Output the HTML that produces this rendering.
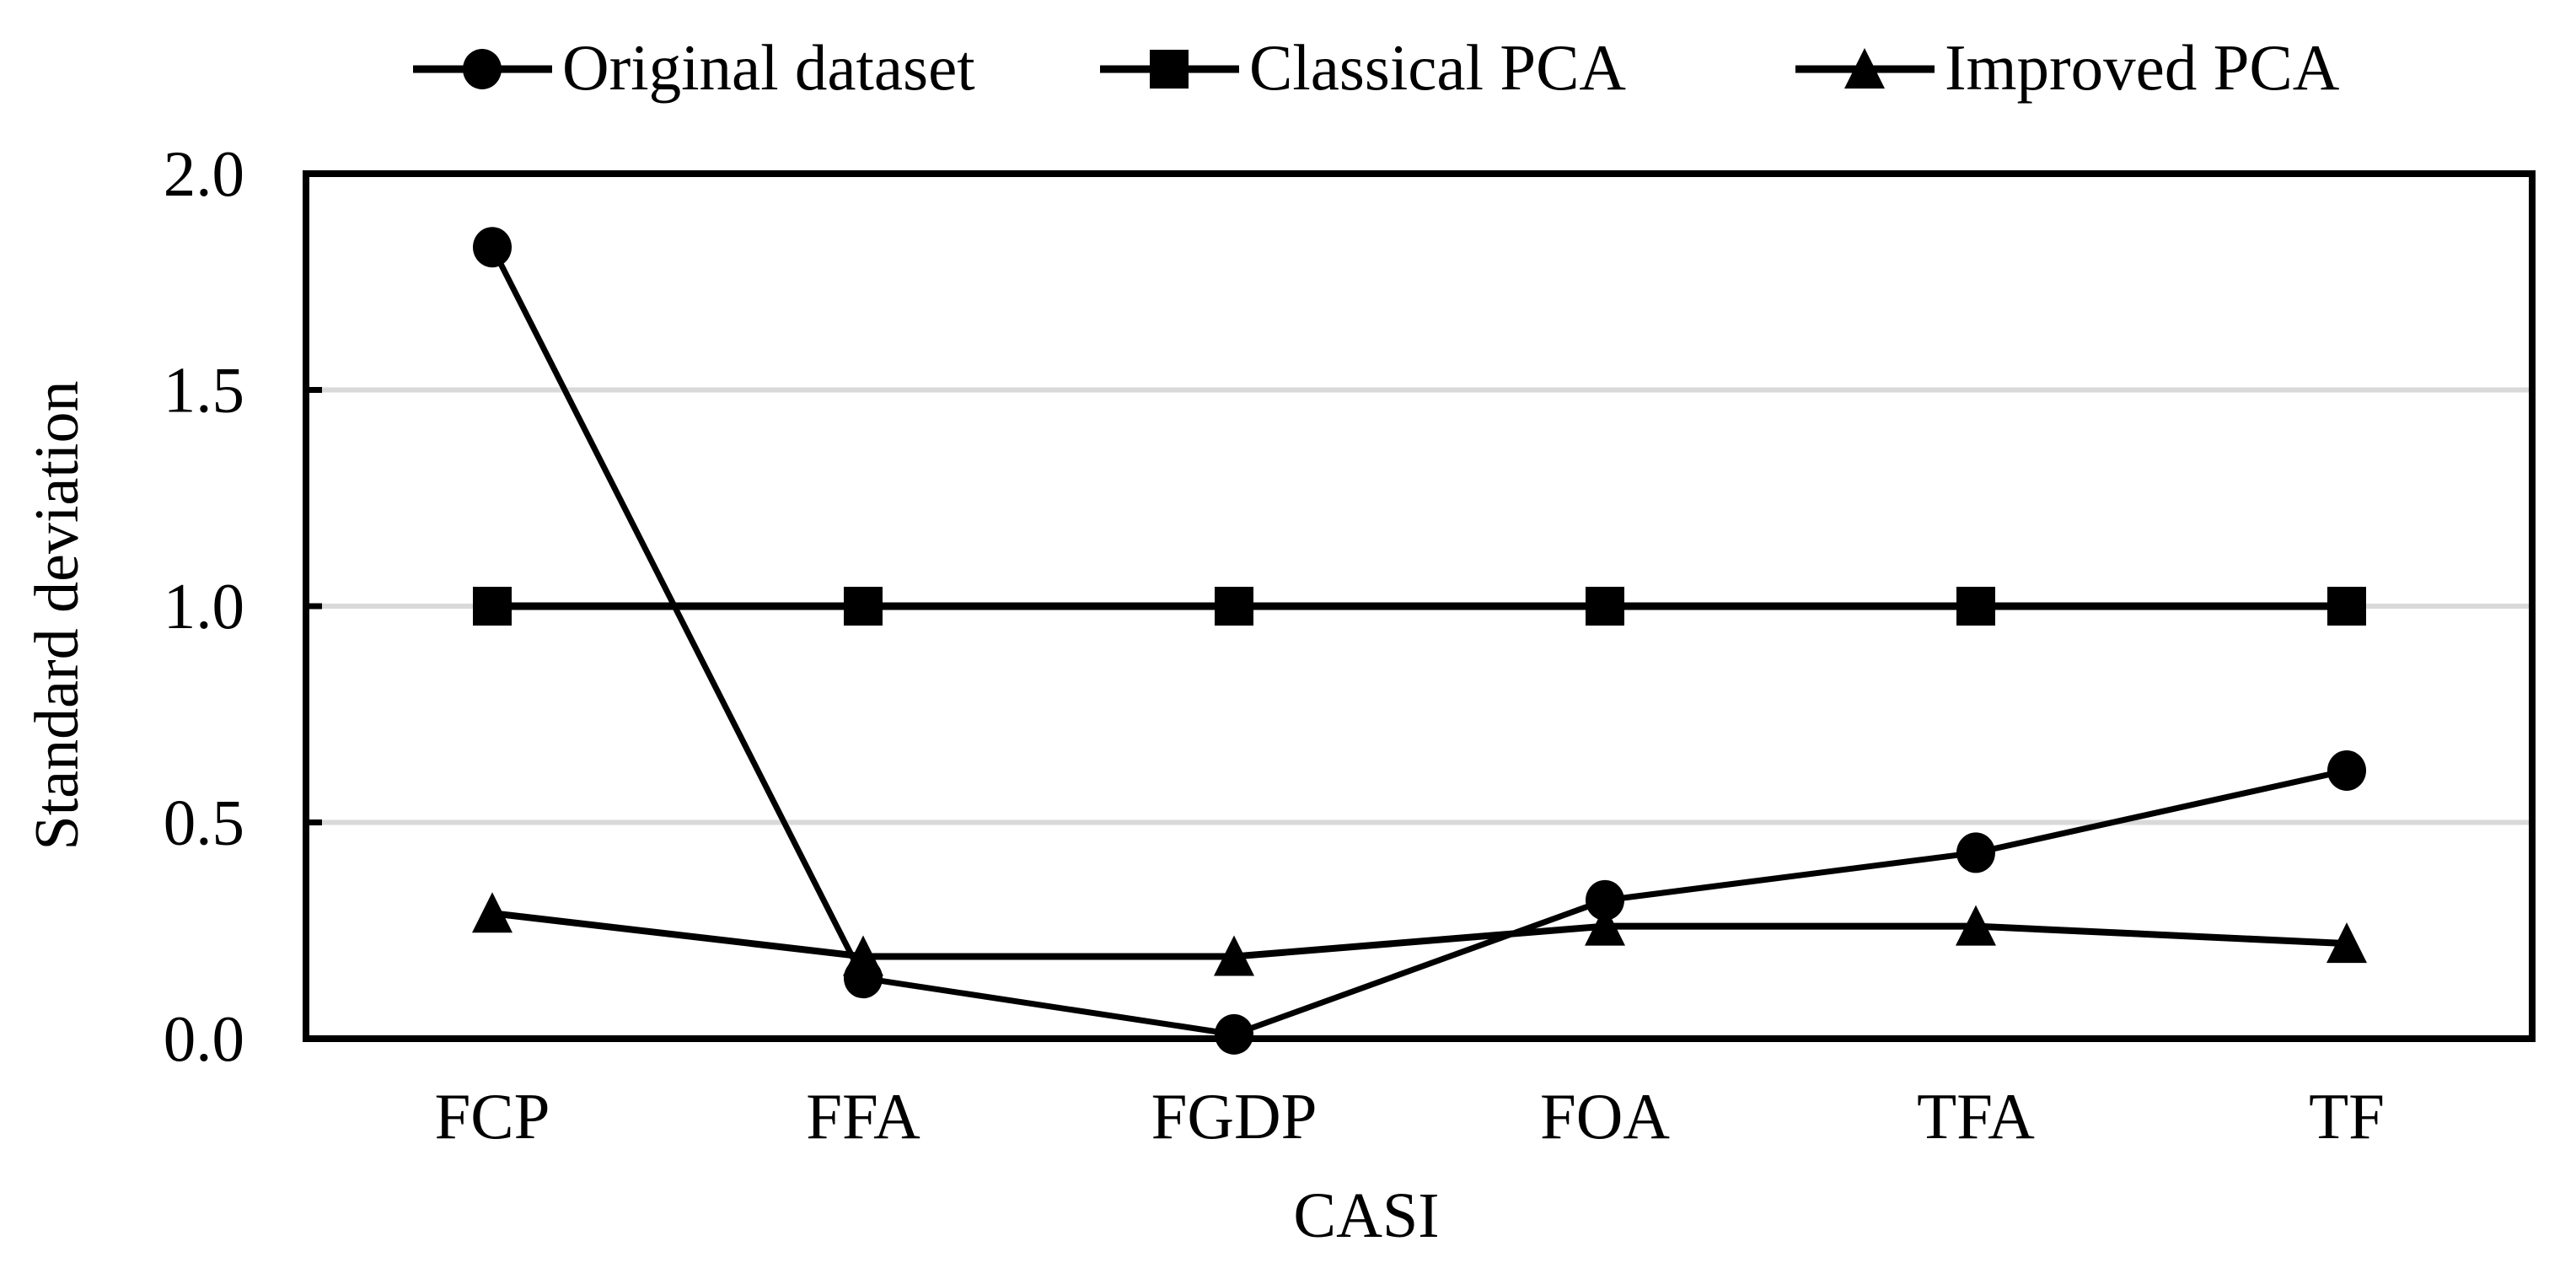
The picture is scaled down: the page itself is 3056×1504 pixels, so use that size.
<!DOCTYPE html>
<html><head><meta charset="utf-8"><style>
html,body{margin:0;padding:0;background:#fff;}
svg text{font-family:"Liberation Serif",serif;fill:#000;}
</style></head><body>
<svg id="chart" width="3056" height="1499" viewBox="0 0 3056 1499" xmlns="http://www.w3.org/2000/svg">
<g id="grid"></g>
<g id="series"></g>
<rect x="363" y="206" width="2641" height="1026" fill="none" stroke="#000" stroke-width="8"/>
<g id="yticks"></g>
<g id="xticks"></g>
<text x="68" y="730" font-size="74" text-anchor="middle" dominant-baseline="central" transform="rotate(-90 68 730)">Standard deviation</text>
<text x="1621" y="1467" font-size="76" text-anchor="middle">CASI</text>
<g id="legend"></g>
</svg>
<script>
const categories = ["FCP","FFA","FGDP","FOA","TFA","TF"];
const originalValues = [1.83, 0.14, 0.01, 0.32, 0.43, 0.62];
const classicalValues = [1.0, 1.0, 1.0, 1.0, 1.0, 1.0];
const improvedValues = [0.29, 0.19, 0.19, 0.26, 0.26, 0.22];
const yTicks = [0.0, 0.5, 1.0, 1.5, 2.0];
const seriesNames = ["Original dataset","Classical PCA","Improved PCA"];

const NS="http://www.w3.org/2000/svg";
const L=364,R=3004,T=206,B=1232,yMax=2.0;
const xPos=i=>L+(R-L)/categories.length*(i+0.5);
const yPos=v=>B-(B-T)*v/yMax;
function mk(tag,attrs,parent){const e=document.createElementNS(NS,tag);for(const k in attrs)e.setAttribute(k,attrs[k]);parent.appendChild(e);return e;}
const grid=document.getElementById('grid'),yt=document.getElementById('yticks'),xt=document.getElementById('xticks'),ser=document.getElementById('series'),leg=document.getElementById('legend');
yTicks.forEach(v=>{
  if(v>0&&v<yMax){const g=mk('line',{x1:L,x2:R,y1:yPos(v),y2:yPos(v),stroke:'#d9d9d9','stroke-width':6},grid);
  
  
  const tk=mk('line',{x1:L,x2:L+18,y1:yPos(v),y2:yPos(v),stroke:'#000','stroke-width':7},yt);
  
  }
  const t=mk('text',{x:290,y:yPos(v)+26,'font-size':77,'text-anchor':'end'},yt);t.textContent=v.toFixed(1);
  
  
});
categories.forEach((c,i)=>{const t=mk('text',{x:xPos(i),y:1350,'font-size':77,'text-anchor':'middle'},xt);t.textContent=c;
  
  });
function marker(type,x,y,parent){
  let m;
  if(type==='circle')m=mk('ellipse',{cx:x,cy:y,rx:23,ry:24,fill:'#000'},parent);
  else if(type==='square')m=mk('rect',{x:x-23,y:y-23,width:46,height:46,fill:'#000'},parent);
  else m=mk('polygon',{points:`${x},${y-25} ${x+24},${y+23} ${x-24},${y+23}`,fill:'#000'},parent);
  return m;
}
const all=[[originalValues,'circle',7],[classicalValues,'square',9],[improvedValues,'triangle',8]];
all.forEach(([vals,type,w],si)=>{
  const g=mk('g',{},ser);
  
  
  const p=mk('polyline',{points:vals.map((v,i)=>xPos(i)+','+yPos(v)).join(' '),fill:'none',stroke:'#000','stroke-width':w,'stroke-linejoin':'round'},g);
  
  
  vals.forEach((v,i)=>{const m=marker(type,xPos(i),yPos(v),g);
    
    });
});
const legX=[490,1305,2130],types=['circle','square','triangle'];
seriesNames.forEach((n,i)=>{
  const g=mk('g',{},leg);
  
  
  mk('line',{x1:legX[i],x2:legX[i]+165,y1:82,y2:82,stroke:'#000','stroke-width':9},g);
  marker(types[i],legX[i]+82,82,g);
  const t=mk('text',{x:legX[i]+177,y:106,'font-size':77},g);t.textContent=n;
  
  
});
</script>
</body></html>
